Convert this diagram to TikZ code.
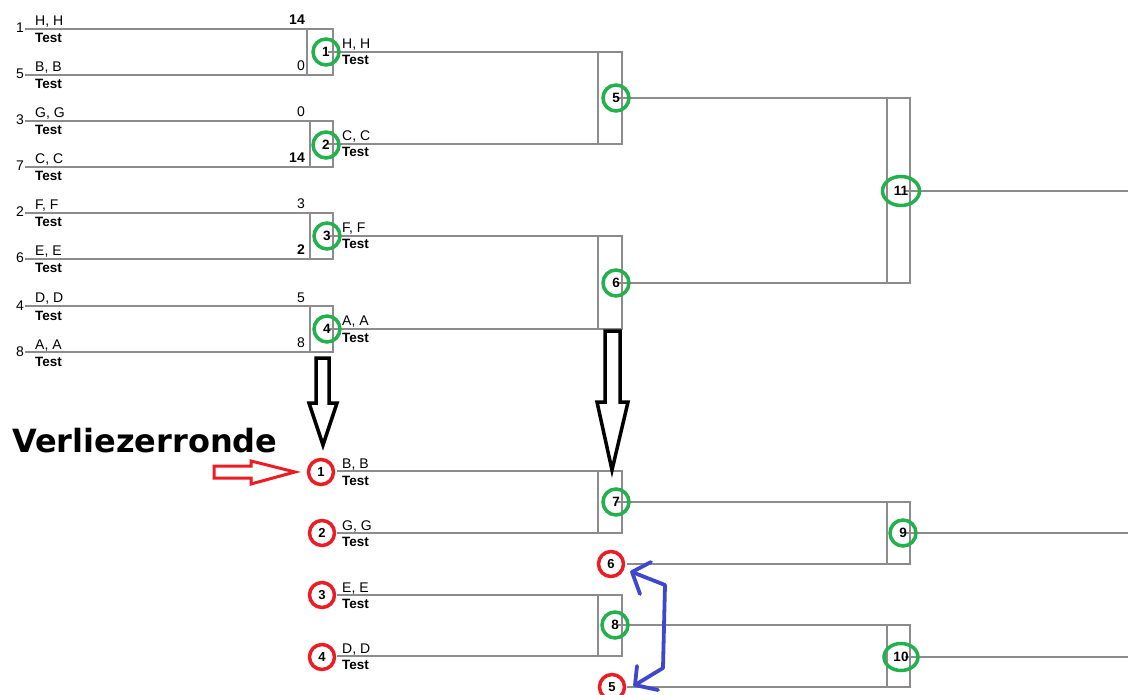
\documentclass[tikz,border=0pt]{standalone}
\usepackage{fontspec}
\setmainfont{Liberation Sans}
\newfontfamily\vfont{DejaVu Sans}
\usetikzlibrary{shapes.geometric}
\definecolor{pgreen}{RGB}{34,177,76}
\definecolor{pred}{RGB}{237,28,36}
\definecolor{pblue}{RGB}{63,72,204}
\definecolor{lgray}{RGB}{140,140,140}
\tikzset{
  brk/.style={draw=lgray, line width=1.2pt},
  nm/.style={font=\fontsize{14}{15}\selectfont, anchor=base west, inner sep=0pt},
  ts/.style={font=\bfseries\fontsize{13.5}{15}\selectfont, anchor=base west, inner sep=0pt},
  sc/.style={font=\fontsize{14}{15}\selectfont, anchor=base east, inner sep=0pt},
  sd/.style={font=\fontsize{14}{15}\selectfont, anchor=base east, inner sep=0pt},
  gc/.style={circle, draw=pgreen, line width=3.5pt, minimum size=26pt, inner sep=0pt, font=\bfseries\fontsize{13.5}{14}\selectfont},
  ge/.style={ellipse, draw=pgreen, line width=3.5pt, minimum width=37pt, minimum height=29pt, inner sep=0pt, font=\bfseries\fontsize{13.5}{14}\selectfont},
  rc/.style={circle, draw=pred, line width=3.5pt, minimum size=25pt, inner sep=0pt, font=\bfseries\fontsize{13}{14}\selectfont},
  bigarrow/.style={draw=black, line width=3.5pt, fill=white, line join=miter},
  redarrow/.style={draw=pred, line width=3pt, fill=white, line join=miter},
  bluearrow/.style={draw=pblue, line width=3.8pt, line join=round, line cap=round}
}
% first-round match: #1 top y, #2 bottom y, #3 inner x, #4 seed1, #5 name1, #6 score1, #7 seed2, #8 name2, #9 score2
\newcommand{\fmatch}[9]{%
  \coordinate (t#4) at (25,#1);
  \coordinate (b#4) at (25,#2);
  \draw[brk] (t#4) -- (333,#1) -- (333,#2) -- (b#4);
  \draw[brk] (#3,#1) -- (#3,#2);
  \node[sd] (seed#4) at (24,#1+4) {#4};
  \node[sd] (seed#7) at (24,#2+4) {#7};
  \node[nm] (n#4) at (35,#1-3) {#5};
  \node[ts] (tt#4) at (35,#1+14) {Test};
  \node[nm] (n#7) at (35,#2-3) {#8};
  \node[ts] (tt#7) at (35,#2+14) {Test};
  \node[sc] (sc#4) at (305,#1-4) {#6};
  \node[sc] (sc#7) at (305,#2-4) {#9};
}
\begin{document}
\begin{tikzpicture}[x=1pt,y=-1pt]
\useasboundingbox[fill=white] (0,0) rectangle (1128,695);

% ---------- first round ----------
\fmatch{29}{75}{307}{1}{H, H}{\textbf{14}}{5}{B, B}{0}
\fmatch{121}{167}{310}{3}{G, G}{0}{7}{C, C}{\textbf{14}}
\fmatch{213}{259}{310}{2}{F, F}{3}{6}{E, E}{\textbf{2}}
\fmatch{306}{352}{310}{4}{D, D}{5}{8}{A, A}{8}

% ---------- second round (winners) ----------
\coordinate (w1) at (328,52);
\coordinate (w2) at (328,144);
\coordinate (w3) at (328,236);
\coordinate (w4) at (328,329);
\draw[brk] (w1) -- (622,52) -- (622,144) -- (w2);
\draw[brk] (598,52) -- (598,144);
\draw[brk] (w3) -- (622,236) -- (622,329) -- (w4);
\draw[brk] (598,236) -- (598,329);
\node[nm] (wn1) at (342,49) {H, H};  \node[ts] (wt1) at (342,65) {Test};
\node[nm] (wn2) at (342,141) {C, C}; \node[ts] (wt2) at (342,157) {Test};
\node[nm] (wn3) at (342,233) {F, F}; \node[ts] (wt3) at (342,249) {Test};
\node[nm] (wn4) at (342,326) {A, A}; \node[ts] (wt4) at (342,342) {Test};

% ---------- final ----------
\coordinate (w5) at (617,98);
\coordinate (w6) at (617,283);
\coordinate (w11) at (1128,191);
\draw[brk] (w5) -- (910,98) -- (910,283) -- (w6);
\draw[brk] (887,98) -- (887,283);
\draw[brk] (905,191) -- (w11);

% ---------- losers bracket ----------
\coordinate (l1) at (337,471);
\coordinate (l2) at (337,533);
\coordinate (l3) at (337,595);
\coordinate (l4) at (337,656);
\coordinate (l6) at (627,564);
\coordinate (l5) at (627,687);
\draw[brk] (l1) -- (622,471) -- (622,533) -- (l2);
\draw[brk] (598,471) -- (598,533);
\draw[brk] (l3) -- (622,595) -- (622,656) -- (l4);
\draw[brk] (598,595) -- (598,656);
\draw[brk] (617,502) -- (910,502) -- (910,564) -- (l6);
\draw[brk] (887,502) -- (887,564);
\draw[brk] (617,625) -- (910,625) -- (910,687) -- (l5);
\draw[brk] (887,625) -- (887,687);
\coordinate (o9) at (1128,533);
\coordinate (o10) at (1128,657);
\draw[brk] (905,533) -- (o9);
\draw[brk] (905,657) -- (o10);
\node[nm] (ln1) at (342,468) {B, B}; \node[ts] (lt1) at (342,485) {Test};
\node[nm] (ln2) at (342,530) {G, G}; \node[ts] (lt2) at (342,546) {Test};
\node[nm] (ln3) at (342,592) {E, E}; \node[ts] (lt3) at (342,608) {Test};
\node[nm] (ln4) at (342,653) {D, D}; \node[ts] (lt4) at (342,669) {Test};

% ---------- green circles ----------
\node[gc] (g1) at (326,52) {1};
\node[gc] (g2) at (326,145) {2};
\node[gc] (g3) at (327,236) {3};
\node[gc] (g4) at (327,329) {4};
\node[gc] (g5) at (616,98) {5};
\node[gc] (g6) at (616,283) {6};
\node[ge] (g11) at (901,191) {11};
\node[gc] (g7) at (616,502) {7};
\node[gc] (g8) at (615,625) {8};
\node[gc] (g9) at (903,533) {9};
\node[ge, minimum width=34pt, minimum height=27pt] (g10) at (901,657) {10};

% ---------- red circles ----------
\node[rc] (r1) at (321,472) {1};
\node[rc] (r2) at (322,533) {2};
\node[rc] (r3) at (322,595) {3};
\node[rc] (r4) at (322,657) {4};
\node[rc] (r6) at (611,564) {6};
\node[rc] (r5) at (612,687) {5};

% ---------- title ----------
\node[anchor=base west, inner sep=0pt, font=\vfont\bfseries\fontsize{32}{33}\selectfont] (title) at (12,452) {Verliezerronde};

% ---------- black hollow arrows ----------
\draw[bigarrow] (316,358) -- (329,358) -- (329,403) -- (337,403) -- (323,445) -- (309,403) -- (316,403) -- cycle;
\draw[bigarrow] (605,331) -- (620,331) -- (620,402) -- (628,402) -- (612,470) -- (597,402) -- (605,402) -- cycle;

% ---------- red hollow arrow ----------
\draw[redarrow] (214,466) -- (251,466) -- (251,461) -- (295,472) -- (251,484) -- (251,478) -- (214,478) -- cycle;

% ---------- blue double arrow ----------
\coordinate (bt) at (632,572);
\coordinate (bb) at (635,685);
\draw[bluearrow] (bt) -- (665,585) -- (663,668) -- (bb);
\draw[bluearrow] (651,562) -- (bt) -- (640,594);
\draw[bluearrow] (637,666) -- (bb) -- (658,690);
\end{tikzpicture}
\end{document}
